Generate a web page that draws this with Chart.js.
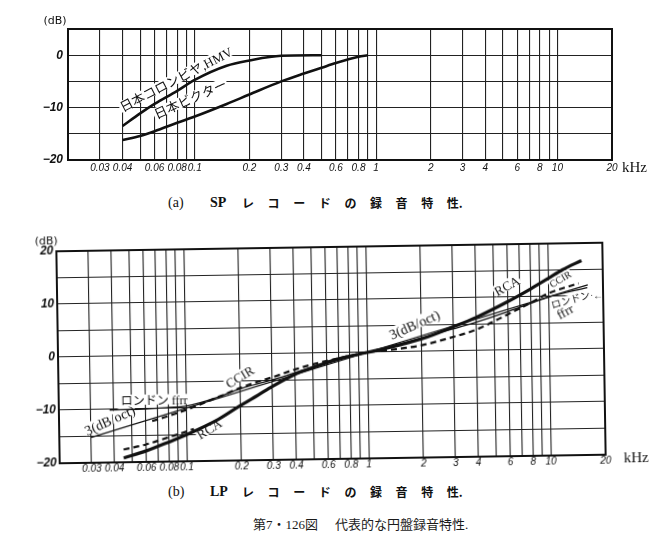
<!DOCTYPE html>
<html>
<head>
<meta charset="utf-8">
<script src="https://cdn.jsdelivr.net/npm/chart.js@4.4.0/dist/chart.umd.min.js"></script>
<style>
  body { margin: 0; background: #fff; width: 656px; height: 542px; position: relative; overflow: hidden; }
  canvas { position: absolute; left: 0; }
  #chartA { top: 0; }
  #chartB { top: 226px; transform: rotate(-0.9deg); transform-origin: 331px 127px; }
  .cap { position: absolute; white-space: nowrap; color: #111; font-family: "Liberation Serif", "Noto Sans CJK JP", serif; line-height: 16px; }
  .jp { font-family: "Noto Sans CJK JP", sans-serif; font-size: 12px; font-weight: bold; }
</style>
</head>
<body>
<canvas id="chartA" width="656" height="178"></canvas>
<canvas id="chartB" width="656" height="251"></canvas>

<div class="cap" style="left:168px;top:195px;font-size:14px">(a)</div>
<div class="cap" style="left:210px;top:195px;font-size:14px;font-weight:bold">SP</div>
<div class="cap jp" style="left:242px;top:195px"><span style="letter-spacing:13.6px">レコードの録音特</span>性.</div>

<div class="cap" style="left:168px;top:484px;font-size:14px">(b)</div>
<div class="cap" style="left:210px;top:484px;font-size:14px;font-weight:bold">LP</div>
<div class="cap jp" style="left:242px;top:484px"><span style="letter-spacing:13.6px">レコードの録音特</span>性.</div>

<div class="cap" style="left:253px;top:517px;font-size:13px;color:#1a1a1a">第7・126図<span style="display:inline-block;width:17px"></span>代表的な円盤録音特性.</div>

<script>
// 周波数軸 (kHz)
const gridHz = [0.02, 0.03, 0.04, 0.05, 0.06, 0.07, 0.08, 0.09, 0.1, 0.2, 0.3, 0.4, 0.5, 0.6, 0.7, 0.8, 0.9,
  1, 2, 3, 4, 5, 6, 7, 8, 9, 10, 20];
const tickLabelHz = [0.03, 0.04, 0.06, 0.08, 0.1, 0.2, 0.3, 0.4, 0.6, 0.8, 1, 2, 3, 4, 6, 8, 10, 20];
const spYLabels = [0, -10, -20];
const lpYLabels = [20, 10, 0, -10, -20];

// (a) SP レコード
const columbiaHz = [0.04, 0.05, 0.06, 0.08, 0.1, 0.15, 0.2, 0.3, 0.5];
const columbiaDb = [-13.5, -11.1, -9.3, -6.8, -4.7, -2.0, -1.0, -0.1, 0];
const victorHz = [0.04, 0.05, 0.06, 0.08, 0.1, 0.15, 0.2, 0.3, 0.4, 0.5, 0.6, 0.8, 0.9];
const victorDb = [-16.2, -15.4, -14.5, -12.9, -11.7, -9.3, -7.5, -5.0, -3.5, -2.4, -1.5, -0.3, 0];

// (b) LP レコード
const rcaHz = [0.045, 0.06, 0.08, 0.1, 0.15, 0.2, 0.25, 0.3, 0.4, 0.5, 0.7, 1, 1.5, 2, 3, 4, 6, 8, 10, 12, 15.3];
const rcaDb = [-19.2, -17.9, -16.3, -15.0, -12.2, -9.6, -7.7, -6.1, -3.9, -2.7, -1.1, 0, 1.3, 2.4, 4.6, 6.3, 9.2, 11.5, 13.4, 15.0, 16.7];
const ccirHz = [0.065, 0.08, 0.1, 0.15, 0.2, 0.25, 0.3, 0.4, 0.5, 0.7, 1, 1.5, 2, 3, 4, 6, 8, 10, 14.7];
const ccirDb = [-12.3, -11.4, -10.3, -8.0, -6.3, -5.2, -4.4, -3.0, -2.1, -1.0, 0, 0.6, 1.2, 2.7, 4.0, 6.8, 8.9, 10.6, 12.4];
const londonHz = [0.038, 0.06, 0.08, 0.1, 0.15, 0.19, 0.3, 0.4, 0.5, 0.7, 1, 1.5, 2, 3, 4, 6, 8, 10, 16.4];
const londonDb = [-10.1, -10.0, -9.8, -9.6, -8.0, -6.7, -4.9, -3.6, -2.6, -1.3, 0, 1.5, 2.6, 4.2, 5.4, 7.3, 8.8, 9.9, 11.6];
const octHz = [0.03, 1, 16.5];
const octDb = [-15.2, 0, 12.1];
const lowDashHz = [0.045, 0.06, 0.08, 0.094, 0.11];
const lowDashDb = [-17.6, -16.7, -15.4, -14.7, -13.9];

const serif = '"Liberation Serif", "Noto Sans CJK JP"';

const spLabels = [
  { text: "日本コロンビヤ,HMV", hz: 0.0402, db: -10.9, angle: 27.5, font: "13px " + serif },
  { text: "日本ビクター", hz: 0.0617, db: -12.2, angle: 24, font: "13px " + serif },
];
const lpLabels = [
  { text: "ロンドン ffrr", hz: 0.0438, db: -9.2, angle: 0, font: "12px " + serif },
  { text: "3(dB/oct)", hz: 0.0285, db: -14.9, angle: 23.5, font: "14px " + serif },
  { text: "CCIR", hz: 0.173, db: -6.4, angle: 30, font: "13px " + serif },
  { text: "RCA", hz: 0.119, db: -16.0, angle: 31, font: "13px " + serif },
  { text: "3(dB/oct)", hz: 1.37, db: 2.3, angle: 23, font: "14px " + serif },
  { text: "RCA", hz: 5.25, db: 10.2, angle: 28, font: "13px " + serif },
  { text: "CCIR", hz: 10.5, db: 11.6, angle: 30, font: "10px " + serif },
  { text: "ロンドン", hz: 10.5, db: 7.7, angle: 15, font: "10px " + serif },
  { text: "←", hz: 17.6, db: 9.4, angle: 0, font: "10px " + serif },
  { text: "ffrr", hz: 11.5, db: 5.6, angle: 28, font: "13px " + serif },
];

function pts(hz, db) {
  return hz.map((x, i) => ({ x: x, y: db[i] }));
}

function fmtDb(v) {
  return v < 0 ? "\u2212" + Math.abs(v) : String(v);
}

// 曲線ラベル、枠、軸の単位
const labelPlugin = {
  id: "curveLabels",
  beforeDatasetsDraw(chart, args, opts) {
    const { ctx, scales: { x, y } } = chart;
    ctx.save();
    ctx.fillStyle = "#fff";
    for (const t of opts.items) {
      ctx.save();
      ctx.translate(x.getPixelForValue(t.hz), y.getPixelForValue(t.db));
      ctx.rotate(-t.angle * Math.PI / 180);
      ctx.font = t.font;
      const w = ctx.measureText(t.text).width;
      const h = parseInt(t.font);
      ctx.fillRect(-1, -h * 0.85, w + 2, h * 0.85);
      ctx.restore();
    }
    ctx.restore();
  },
  afterDatasetsDraw(chart, args, opts) {
    const { ctx, chartArea: a, scales: { x, y } } = chart;
    ctx.save();
    ctx.fillStyle = "#111";
    ctx.textBaseline = "alphabetic";
    for (const t of opts.items) {
      ctx.save();
      ctx.translate(x.getPixelForValue(t.hz), y.getPixelForValue(t.db));
      ctx.rotate(-t.angle * Math.PI / 180);
      ctx.font = t.font;
      ctx.fillText(t.text, 0, 0);
      ctx.restore();
    }
    ctx.strokeStyle = "#111";
    ctx.lineWidth = 2;
    ctx.strokeRect(a.left, a.top, a.right - a.left, a.bottom - a.top);

    ctx.textBaseline = "middle";
    ctx.textAlign = "center";
    ctx.font = '11px "DejaVu Sans"';
    ctx.fillText("(dB)", a.left + opts.dbDx, a.top + opts.dbDy);
    ctx.textAlign = "left";
    ctx.font = '15px "Liberation Serif"';
    ctx.fillText("kHz", a.right + opts.khzDx, a.bottom + opts.khzDy);
    ctx.restore();
  }
};

function makeChart(id, datasets, yMin, yMax, yLabels, layout, pluginOpts) {
  return new Chart(document.getElementById(id), {
    type: "line",
    data: { datasets: datasets },
    options: {
      responsive: false,
      animation: false,
      devicePixelRatio: 1,
      layout: { padding: { left: 0, right: layout.right, top: layout.top, bottom: 0 } },
      elements: { point: { radius: 0 } },
      plugins: {
        legend: { display: false },
        tooltip: { enabled: false },
        curveLabels: pluginOpts
      },
      scales: {
        x: {
          type: "logarithmic",
          min: 0.02,
          max: 20,
          afterBuildTicks: (s) => { s.ticks = gridHz.map((v) => ({ value: v })); },
          afterFit: (s) => { s.height = 18; },
          grid: { color: "#222", lineWidth: 1.1, drawTicks: false },
          border: { display: false },
          ticks: {
            autoSkip: false,
            maxRotation: 0,
            padding: layout.xPad,
            color: "#111",
            font: { family: "Liberation Sans", size: 10, style: "italic" },
            callback: (v) => (tickLabelHz.includes(v) ? String(v) : "")
          }
        },
        y: {
          min: yMin,
          max: yMax,
          afterFit: (s) => { s.width = layout.left; },
          grid: { color: "#222", lineWidth: 1.1, drawTicks: false },
          border: { display: false },
          ticks: {
            stepSize: 5,
            padding: layout.yPad,
            color: "#111",
            font: { family: "Liberation Sans", size: 12, style: "italic", weight: "bold" },
            callback: (v) => (yLabels.includes(v) ? fmtDb(v) : "")
          }
        }
      }
    },
    plugins: [labelPlugin]
  });
}

const curve = { borderColor: "#111", fill: false, cubicInterpolationMode: "monotone" };

makeChart("chartA", [
  Object.assign({ label: "日本コロンビヤ,HMV", data: pts(columbiaHz, columbiaDb), borderWidth: 2.6 }, curve),
  Object.assign({ label: "日本ビクター", data: pts(victorHz, victorDb), borderWidth: 2.6 }, curve)
], -20, 5, spYLabels,
  { left: 68, right: 44, top: 29, xPad: 2.5, yPad: 5 },
  { items: spLabels, dbDx: -13, dbDy: -8, khzDx: 10, khzDy: 8 });

makeChart("chartB", [
  Object.assign({ label: "RCA", data: pts(rcaHz, rcaDb), borderWidth: 3.2 }, curve),
  Object.assign({ label: "CCIR", data: pts(ccirHz, ccirDb), borderWidth: 2.2, borderDash: [6, 4] }, curve),
  Object.assign({ label: "", data: pts(lowDashHz, lowDashDb), borderWidth: 2.2, borderDash: [6, 4] }, curve),
  Object.assign({ label: "ロンドン ffrr", data: pts(londonHz, londonDb), borderWidth: 1.3 }, curve),
  { label: "3(dB/oct)", data: pts(octHz, octDb), borderColor: "#111", borderWidth: 1.3, fill: false, tension: 0 }
], -20, 20, lpYLabels,
  { left: 58, right: 52, top: 21, xPad: 0, yPad: 3 },
  { items: lpLabels, dbDx: -10, dbDy: -10, khzDx: 18, khzDy: 4 });
</script>
</body>
</html>
